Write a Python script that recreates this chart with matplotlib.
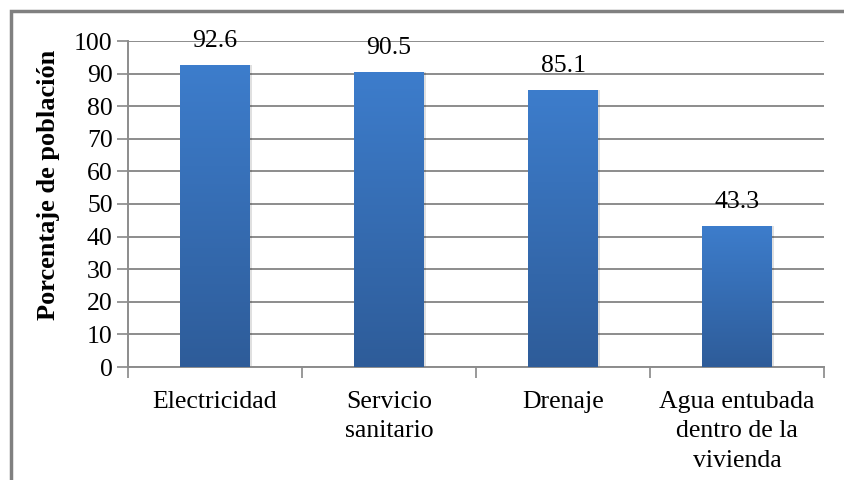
import numpy as np
import matplotlib.pyplot as plt
from matplotlib.patches import Rectangle
from matplotlib.colors import LinearSegmentedColormap

categories = ['Electricidad', 'Servicio\nsanitario', 'Drenaje',
              'Agua entubada\ndentro de la\nvivienda']
values = [92.6, 90.5, 85.1, 43.3]
yticks = list(range(0, 101, 10))

plt.rcParams['font.family'] = ['Liberation Serif', 'DejaVu Serif']
fs = 18.5

fig = plt.figure(figsize=(8.44, 4.8), dpi=100)
ax = fig.add_axes([128 / 844, 1 - 367 / 480, 696 / 844, 326 / 480])

x = np.arange(len(categories))
bars = ax.bar(x, values, width=0.40, color='none', zorder=3)

# gradiente vertical de cada barra
cmap = LinearSegmentedColormap.from_list('g', ['#2e5c99', '#3d7dcc'])
grad = np.linspace(0, 1, 256).reshape(-1, 1)
for b in bars:
    x0, w, h = b.get_x(), b.get_width(), b.get_height()
    im = ax.imshow(grad, extent=(x0, x0 + w, 0, h), origin='lower',
                   cmap=cmap, aspect='auto', zorder=3)
    im.set_clip_path(b)
    # sombra suave
    ax.add_patch(Rectangle((x0 + 0.012, 0), w, h, color='#000000',
                           alpha=0.12, zorder=2, lw=0))
    ax.annotate(f'{h:.1f}', (x0 + w / 2, h), xytext=(0, 24),
                textcoords='offset pixels', ha='center', va='center',
                fontsize=fs, zorder=4)

ax.set_xlim(-0.5, len(categories) - 0.5)
ax.set_ylim(0, 100)
ax.set_yticks(yticks)
ax.set_yticklabels([str(t) for t in yticks], fontsize=fs)
ax.set_xticks(np.arange(len(categories) + 1) - 0.5, minor=False)
ax.set_xticklabels([''] * (len(categories) + 1))
ax.set_xticks(x, minor=True)
ax.set_xticklabels(categories, minor=True, fontsize=fs, linespacing=1.45)
ax.tick_params(axis='x', which='minor', length=0, pad=17)
ax.tick_params(axis='x', which='major', length=8, color='#888888', width=1.2)
ax.tick_params(axis='y', length=8, color='#888888', width=1.2, pad=3)

ax.grid(axis='y', color='#8c8c8c', linewidth=1.4, zorder=0)
ax.set_axisbelow(True)
for s in ['top', 'right']:
    ax.spines[s].set_visible(False)
for s in ['left', 'bottom']:
    ax.spines[s].set_color('#8c8c8c')
    ax.spines[s].set_linewidth(1.4)

ax.set_ylabel('Porcentaje de población', fontsize=19, fontweight='bold')
ax.yaxis.set_label_coords(-68 / 696, 0.558)

# marco del gráfico
fig.patches.append(Rectangle((11 / 844, -0.1), 1.2, 1 - 11 / 480 + 0.1,
                             transform=fig.transFigure, fill=False,
                             edgecolor='#808080', linewidth=2.5))

fig.savefig('out.png', dpi=100)
